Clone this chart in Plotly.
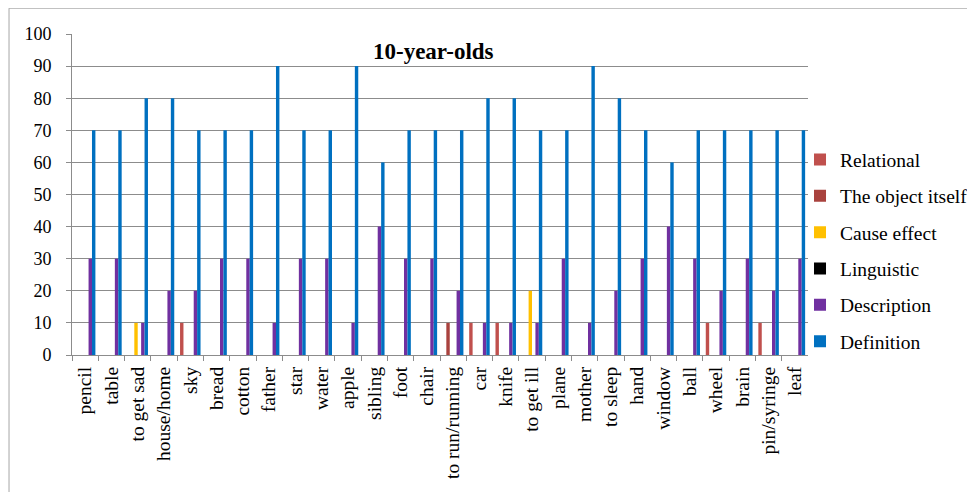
import plotly.graph_objects as go

categories = ["pencil", "table", "to get sad", "house/home", "sky", "bread", "cotton",
              "father", "star", "water", "apple", "sibling", "foot", "chair",
              "to run/running", "car", "knife", "to get ill", "plane", "mother",
              "to sleep", "hand", "window", "ball", "wheel", "brain", "pin/syringe", "leaf"]

relational = [0, 0, 0, 0, 10, 0, 0, 0, 0, 0, 0, 0, 0, 0,
              0, 10, 10, 0, 0, 0, 0, 0, 0, 0, 10, 0, 10, 0]
object_itself = [0, 0, 0, 0, 0, 0, 0, 0, 0, 0, 0, 0, 0, 0,
                 10, 0, 0, 0, 0, 0, 0, 0, 0, 0, 0, 0, 0, 0]
cause_effect = [0, 0, 10, 0, 0, 0, 0, 0, 0, 0, 0, 0, 0, 0,
                0, 0, 0, 20, 0, 0, 0, 0, 0, 0, 0, 0, 0, 0]
linguistic = [0, 0, 0, 0, 0, 0, 0, 0, 0, 0, 0, 0, 0, 0,
              0, 0, 0, 0, 0, 0, 0, 0, 0, 0, 0, 0, 0, 0]
description = [30, 30, 10, 20, 20, 30, 30, 10, 30, 30, 10, 40, 30, 30,
               20, 10, 10, 10, 30, 10, 20, 30, 40, 30, 20, 30, 20, 30]
definition = [70, 70, 80, 80, 70, 70, 70, 90, 70, 70, 90, 60, 70, 70,
              70, 80, 80, 70, 70, 90, 80, 70, 60, 70, 70, 70, 70, 70]

series_names = ["Relational", "The object itself", "Cause effect", "Linguistic",
                "Description", "Definition"]
series_values = [relational, object_itself, cause_effect, linguistic, description, definition]
series_colors = ["#C0504D", "#A9423E", "#FFC000", "#000000", "#7030A0", "#0070C0"]

FONT = "Liberation Serif, Times New Roman, serif"
GRID = "#8C8C8C"

fig = go.Figure()
for name, vals, col in zip(series_names, series_values, series_colors):
    fig.add_trace(go.Bar(x=categories, y=vals, name=name, marker_color=col,
                         marker_line_width=0, legendgroup=name))

fig.update_layout(
    width=967, height=484,
    margin=dict(l=64, r=2, t=26.3, b=137, autoexpand=False),
    paper_bgcolor="white", plot_bgcolor="white",
    barmode="group", bargap=0.22, bargroupgap=0,
    font=dict(family=FONT, size=19, color="black"),
    showlegend=True,
    legend=dict(x=0.808, xanchor="left", y=0.669, yanchor="top",
                font=dict(family=FONT, size=19.5, color="black"),
                tracegroupgap=8, traceorder="grouped", itemwidth=30,
                bgcolor="rgba(0,0,0,0)"),
    annotations=[dict(text="<b>10-year-olds</b>", x=0.4007, y=0.946,
                      xref="paper", yref="paper", showarrow=False,
                      xanchor="center", yanchor="middle",
                      font=dict(family=FONT, size=23, color="black"))],
    shapes=[
        dict(type="line", xref="paper", yref="paper", x0=-0.0699, x1=-0.0699,
             y0=1.0804, y1=-0.6, line=dict(color="#A6A6A6", width=1)),
        dict(type="line", xref="paper", yref="paper", x0=-0.0699, x1=1.2,
             y0=1.0804, y1=1.0804, line=dict(color="#A6A6A6", width=1)),
    ],
)

fig.update_xaxes(type="category", domain=[0, 0.8169], tickangle=-90, ticks="outside",
                 tickson="boundaries", ticklen=5, tickcolor=GRID, showline=True,
                 linecolor=GRID, linewidth=1, showgrid=False,
                 tickfont=dict(family=FONT, size=19.5), ticklabelstandoff=3)
fig.update_yaxes(range=[0, 100], dtick=10, ticks="outside", ticklen=5, tickcolor=GRID,
                 showline=True, linecolor=GRID, linewidth=1, showgrid=True,
                 gridcolor=GRID, gridwidth=1, zeroline=False,
                 tickfont=dict(family=FONT, size=18), ticklabelstandoff=11)

fig.write_html("out.html")
